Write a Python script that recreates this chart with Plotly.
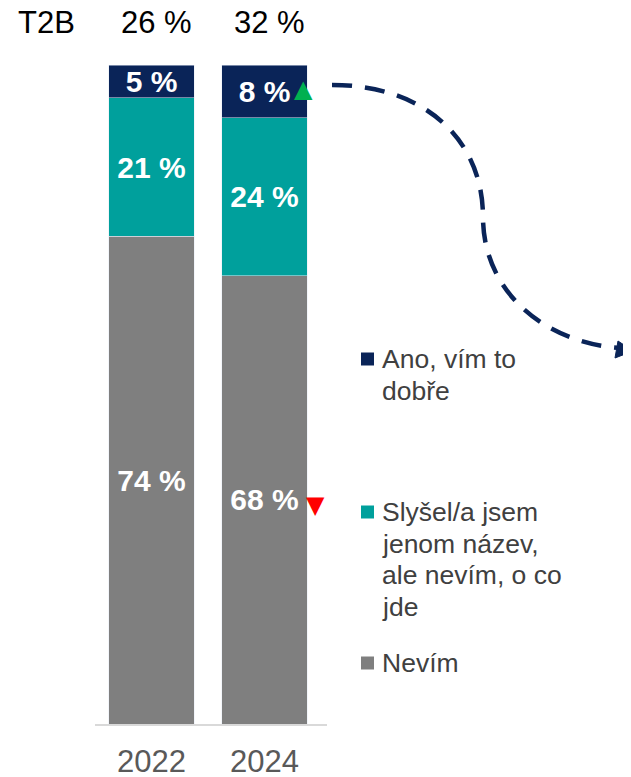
import plotly.graph_objects as go

# data
years = ["2022", "2024"]
series_names = ["Nevím", "Slyšel/a jsem jenom název, ale nevím, o co jde", "Ano, vím to dobře"]
legend_lines = [["Nevím"], ["Slyšel/a jsem", "jenom název,", "ale nevím, o co", "jde"], ["Ano, vím to", "dobře"]]
nevim = [74, 68]
slysel = [21, 24]
ano = [5, 8]
t2b = [26, 32]
# significant change vs. previous wave (per series, per year)
change_ano = [None, "up"]
change_nevim = [None, "down"]

colors = ["#7F7F7F", "#00A09C", "#0A2458"]
values = [nevim, slysel, ano]
changes = [change_nevim, None, change_ano]

FONT = "Arial, Liberation Sans, sans-serif"

# plot area in page pixels (page has an 8px body margin)
X0, W = 95, 232
Y0, H = 724, 659


def px(x):
    return (x - X0) / W


def py(y):
    return (Y0 - y) / H


fig = go.Figure()

for name, vals, col in zip(series_names, values, colors):
    fig.add_trace(
        go.Bar(
            x=years,
            y=vals,
            name=name,
            marker_color=col,
            text=[f"<b>{v} %</b>" for v in vals],
            textposition="inside",
            insidetextanchor="middle",
            constraintext="none",
            textfont=dict(family=FONT, size=30, color="white"),
            hoverinfo="skip",
        )
    )

annotations = []

# change markers next to the labels (x given as category index)
base = [0] * len(years)
for vals, chg in zip(values, changes):
    for i in range(len(years)):
        mid = base[i] + vals[i] / 2
        if chg and chg[i]:
            up = chg[i] == "up"
            annotations.append(
                dict(
                    x=i, y=mid, xref="x", yref="y",
                    text="▲" if up else "▼",
                    showarrow=False,
                    xshift=39 if up else 51,
                    yshift=2 if up else -5,
                    font=dict(family="DejaVu Sans", size=24,
                              color="#00B050" if up else "#FF0000"),
                )
            )
        base[i] += vals[i]

# T2B row
annotations.append(
    dict(
        x=px(46), y=py(22), xref="paper", yref="paper",
        xanchor="center", yanchor="middle",
        text="T2B", showarrow=False,
        font=dict(family=FONT, size=31, color="black"),
    )
)
for i, v in enumerate(t2b):
    annotations.append(
        dict(
            x=i, y=py(22), xref="x", yref="paper",
            yanchor="middle",
            text=f"{v} %", showarrow=False, xshift=5,
            font=dict(family=FONT, size=31, color="black"),
        )
    )

# custom legend (top series first)
shapes = []
legend_y = [359, 512, 663]
for lines, col, ly in zip(legend_lines[::-1], colors[::-1], legend_y):
    shapes.append(
        dict(
            type="rect", xref="paper", yref="paper",
            x0=px(361), x1=px(374), y0=py(ly + 6.5), y1=py(ly - 6.5),
            fillcolor=col, line=dict(width=0),
        )
    )
    for k, line in enumerate(lines):
        annotations.append(
            dict(
                x=px(380), y=py(ly + k * 31.5), xref="paper", yref="paper",
                xanchor="left", yanchor="middle",
                text=line, showarrow=False,
                font=dict(family=FONT, size=26.5, color="#404040"),
            )
        )

# dashed arrow on the right
pts = [(332, 85), (425, 85), (483, 140), (483, 217), (483, 292), (545, 343), (620, 348)]
p = [f"{px(x):.4f},{py(y):.4f}" for x, y in pts]
shapes.append(
    dict(
        type="path", xref="paper", yref="paper",
        path=f"M {p[0]} C {p[1]} {p[2]} {p[3]} C {p[4]} {p[5]} {p[6]}",
        line=dict(color="#0A2458", width=4.5, dash="20px,13px"),
    )
)
head = [(633, 351), (618, 341), (615, 358)]
h = [f"{px(x):.4f},{py(y):.4f}" for x, y in head]
shapes.append(
    dict(
        type="path", xref="paper", yref="paper",
        path=f"M {h[0]} L {h[1]} L {h[2]} Z",
        fillcolor="#0A2458", line=dict(color="#0A2458", width=1),
    )
)

fig.update_layout(
    width=631,
    height=777,
    barmode="stack",
    bargap=0.24,
    margin=dict(l=X0 - 8, r=631 - (X0 - 8) - W, t=65 - 8, b=777 - (Y0 - 8)),
    plot_bgcolor="white",
    paper_bgcolor="white",
    font=dict(family=FONT),
    xaxis=dict(
        type="category",
        automargin=False,
        showline=True, linecolor="#D9D9D9", linewidth=1.5,
        ticks="outside", ticklen=9, tickcolor="white",
        tickfont=dict(family=FONT, size=31, color="#595959"),
        showgrid=False,
    ),
    yaxis=dict(range=[0, 100], showticklabels=False, showgrid=False,
               zeroline=False, automargin=False),
    annotations=annotations,
    shapes=shapes,
    showlegend=False,
)

fig.write_html("out.html")
